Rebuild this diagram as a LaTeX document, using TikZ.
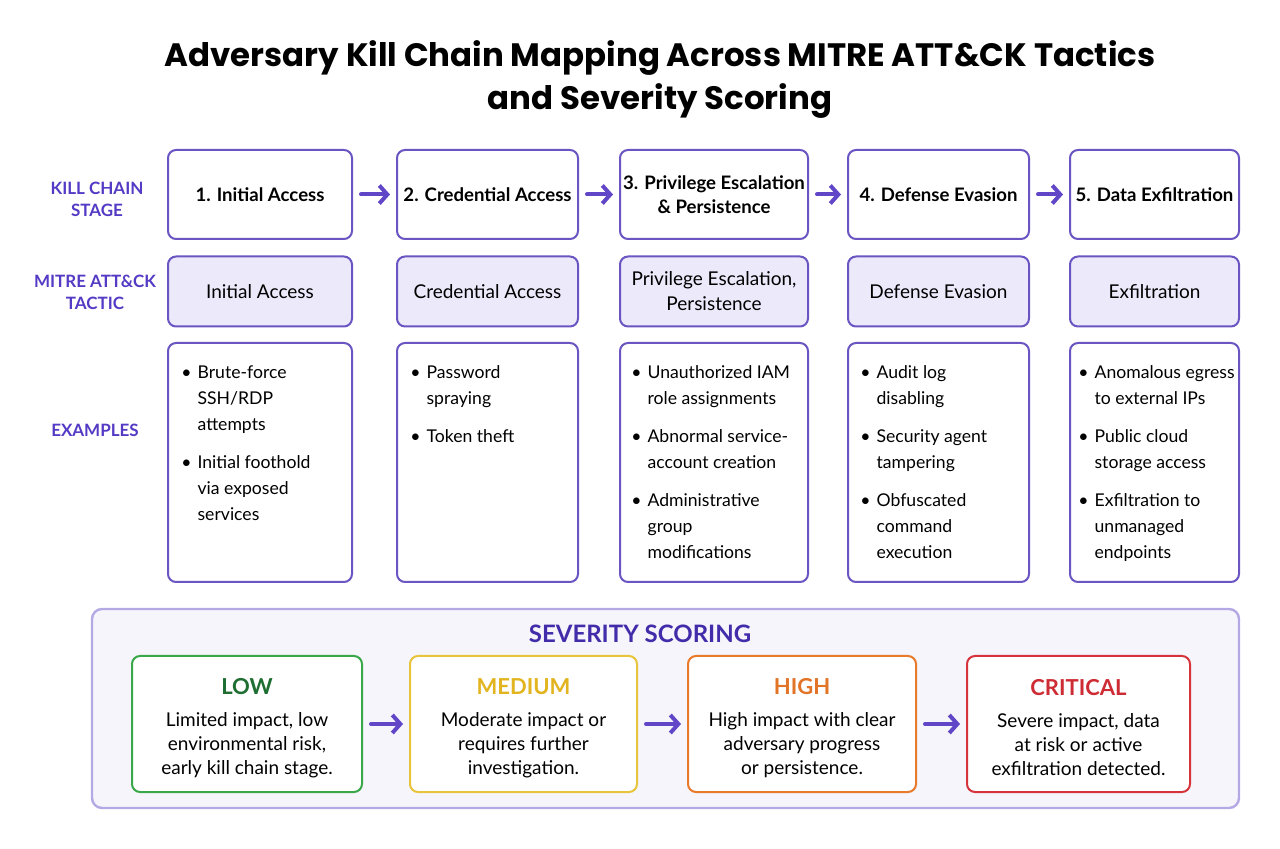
\documentclass[tikz,border=0pt]{standalone}
\usepackage{fontspec}
\setmainfont{Lato}
\newfontfamily\titlefont{Poppins}
\usetikzlibrary{arrows.meta,positioning}

\definecolor{kcline}{RGB}{106,85,194}
\definecolor{kcfill}{RGB}{236,233,250}
\definecolor{kclabel}{RGB}{84,58,196}
\definecolor{kcarrow}{RGB}{98,70,200}
\definecolor{sevtitle}{RGB}{66,44,170}
\definecolor{panelfill}{RGB}{246,245,252}
\definecolor{panelline}{RGB}{180,169,228}
\definecolor{lowline}{RGB}{58,168,74}
\definecolor{lowtext}{RGB}{30,110,50}
\definecolor{medline}{RGB}{232,196,60}
\definecolor{medtext}{RGB}{226,180,32}
\definecolor{highline}{RGB}{232,122,44}
\definecolor{hightext}{RGB}{226,116,40}
\definecolor{critline}{RGB}{214,52,60}
\definecolor{crittext}{RGB}{206,44,52}

\newcommand\exlist[1]{\begin{tabular}{@{}l@{\hspace{3pt}}l@{}}#1\end{tabular}}

\begin{document}
\begin{tikzpicture}[x=0.5pt, y=-0.5pt,
  stage box/.style={draw=kcline, line width=1pt, rounded corners=4pt, fill=white,
    minimum height=44.5pt, inner sep=1.5pt, align=center,
    font=\bfseries\fontsize{9.3}{12}\selectfont},
  tactic box/.style={draw=kcline, line width=1pt, rounded corners=4pt, fill=kcfill,
    minimum height=35pt, inner sep=2pt, align=center,
    font=\fontsize{9.5}{12.5}\selectfont},
  example box/.style={draw=kcline, line width=1pt, rounded corners=4pt, fill=white,
    minimum height=119.5pt},
  example text/.style={anchor=north west, inner sep=0pt,
    font=\fontsize{8.8}{13}\selectfont},
  row label/.style={align=center, text=kclabel, font=\bfseries\fontsize{8.5}{11}\selectfont},
  flow/.style={draw=kcarrow, line width=2pt, line cap=round,
    -{Straight Barb[length=4pt,width=9pt,line width=2pt]},
    shorten <=4pt, shorten >=3pt},
  sev box/.style={draw=#1, line width=1pt, rounded corners=4pt, fill=white,
    minimum width=114pt, minimum height=68pt},
  sev text/.style={align=center, inner sep=0pt, font=\fontsize{9.5}{12}\selectfont}
]
\useasboundingbox (0,0) rectangle (1280,849);

% title
\node[align=center, font=\titlefont\bfseries\fontsize{16.2}{21.5}\selectfont] (title) at (660,79)
  {Adversary Kill Chain Mapping Across MITRE ATT\&CK Tactics\\and Severity Scoring};

% row labels
\node[row label] (lstage)  at (97,199) {KILL CHAIN\\STAGE};
\node[row label] (ltactic) at (95,292) {MITRE ATT\&CK\\TACTIC};
\node[row label] (lex)     at (95,430) {EXAMPLES};

% kill chain stages
\node[stage box, minimum width=92pt]   (s1) at (260,194.5)  {1. Initial Access};
\node[stage box, minimum width=90.5pt] (s2) at (487.5,194.5) {2. Credential Access};
\node[stage box, minimum width=94pt]   (s3) at (714,194.5)  {3. Privilege Escalation\\\& Persistence};
\node[stage box, minimum width=90.5pt] (s4) at (938.5,194.5) {4. Defense Evasion};
\node[stage box, minimum width=84.5pt] (s5) at (1154.5,194.5) {5. Data Exfiltration};

\path[flow]
(s1) edge (s2)
(s2) edge (s3)
(s3) edge (s4)
(s4) edge (s5)
;

% tactics
\node[tactic box, minimum width=92pt]   (t1) at (260,291.5)    {Initial Access};
\node[tactic box, minimum width=90.5pt] (t2) at (487.5,291.5)  {Credential Access};
\node[tactic box, minimum width=94pt]   (t3) at (714,291.5)    {Privilege Escalation,\\Persistence};
\node[tactic box, minimum width=90.5pt] (t4) at (938.5,291.5)  {Defense Evasion};
\node[tactic box, minimum width=84.5pt] (t5) at (1154.5,291.5) {Exfiltration};

% examples
\node[example box, minimum width=92pt]   (e1) at (260,462.5)    {};
\node[example box, minimum width=90.5pt] (e2) at (487.5,462.5)  {};
\node[example box, minimum width=94pt]   (e3) at (714,462.5)    {};
\node[example box, minimum width=90.5pt] (e4) at (938.5,462.5)  {};
\node[example box, minimum width=84.5pt] (e5) at (1154.5,462.5) {};

\node[example text, below right=9pt and 7pt of e1.north west] (x1) {\exlist{
  \textbullet & Brute-force\\ & SSH/RDP\\ & attempts\\[6pt]
  \textbullet & Initial foothold\\ & via exposed\\ & services}};
\node[example text, below right=9pt and 7pt of e2.north west] (x2) {\exlist{
  \textbullet & Password\\ & spraying\\[6pt]
  \textbullet & Token theft}};
\node[example text, below right=9pt and 6pt of e3.north west] (x3) {\exlist{
  \textbullet & Unauthorized IAM\\ & role assignments\\[6pt]
  \textbullet & Abnormal service-\\ & account creation\\[6pt]
  \textbullet & Administrative\\ & group\\ & modifications}};
\node[example text, below right=9pt and 6.5pt of e4.north west] (x4) {\exlist{
  \textbullet & Audit log\\ & disabling\\[6pt]
  \textbullet & Security agent\\ & tampering\\[6pt]
  \textbullet & Obfuscated\\ & command\\ & execution}};
\node[example text, below right=9pt and 4.5pt of e5.north west] (x5) {\exlist{
  \textbullet & Anomalous egress\\ & to external IPs\\[6pt]
  \textbullet & Public cloud\\ & storage access\\[6pt]
  \textbullet & Exfiltration to\\ & unmanaged\\ & endpoints}};

% severity scoring
\node[draw=panelline, fill=panelfill, line width=1.2pt, rounded corners=5pt,
  minimum width=573.5pt, minimum height=99.5pt] (panel) at (665.5,708.5) {};
\node[text=sevtitle, font=\bfseries\fontsize{12}{14}\selectfont] (sevhead) at (640,634) {SEVERITY SCORING};

\node[sev box=lowline, minimum width=115pt]    (low)  at (247,724)    {};
\node[sev box=medline, minimum width=113.5pt]  (med)  at (523.5,724)  {};
\node[sev box=highline, minimum width=114pt]   (high) at (802,724)    {};
\node[sev box=critline, minimum width=111.5pt] (crit) at (1078.5,724) {};

\node[sev text] (lowtxt) at (247,728)
  {{\color{lowtext}\bfseries\fontsize{11}{14}\selectfont LOW}\\[4pt]
   Limited impact, low\\environmental risk,\\early kill chain stage.};
\node[sev text] (medtxt) at (523.5,728)
  {{\color{medtext}\bfseries\fontsize{11}{14}\selectfont MEDIUM}\\[4pt]
   Moderate impact or\\requires further\\investigation.};
\node[sev text] (hightxt) at (802,728)
  {{\color{hightext}\bfseries\fontsize{11}{14}\selectfont HIGH}\\[4pt]
   High impact with clear\\adversary progress\\or persistence.};
\node[sev text] (crittxt) at (1078.5,728)
  {{\color{crittext}\bfseries\fontsize{11}{14}\selectfont CRITICAL}\\[4pt]
   Severe impact, data\\at risk or active\\exfiltration detected.};

\path[flow]
(low) edge (med)
(med) edge (high)
(high) edge (crit)
;
\end{tikzpicture}
\end{document}
